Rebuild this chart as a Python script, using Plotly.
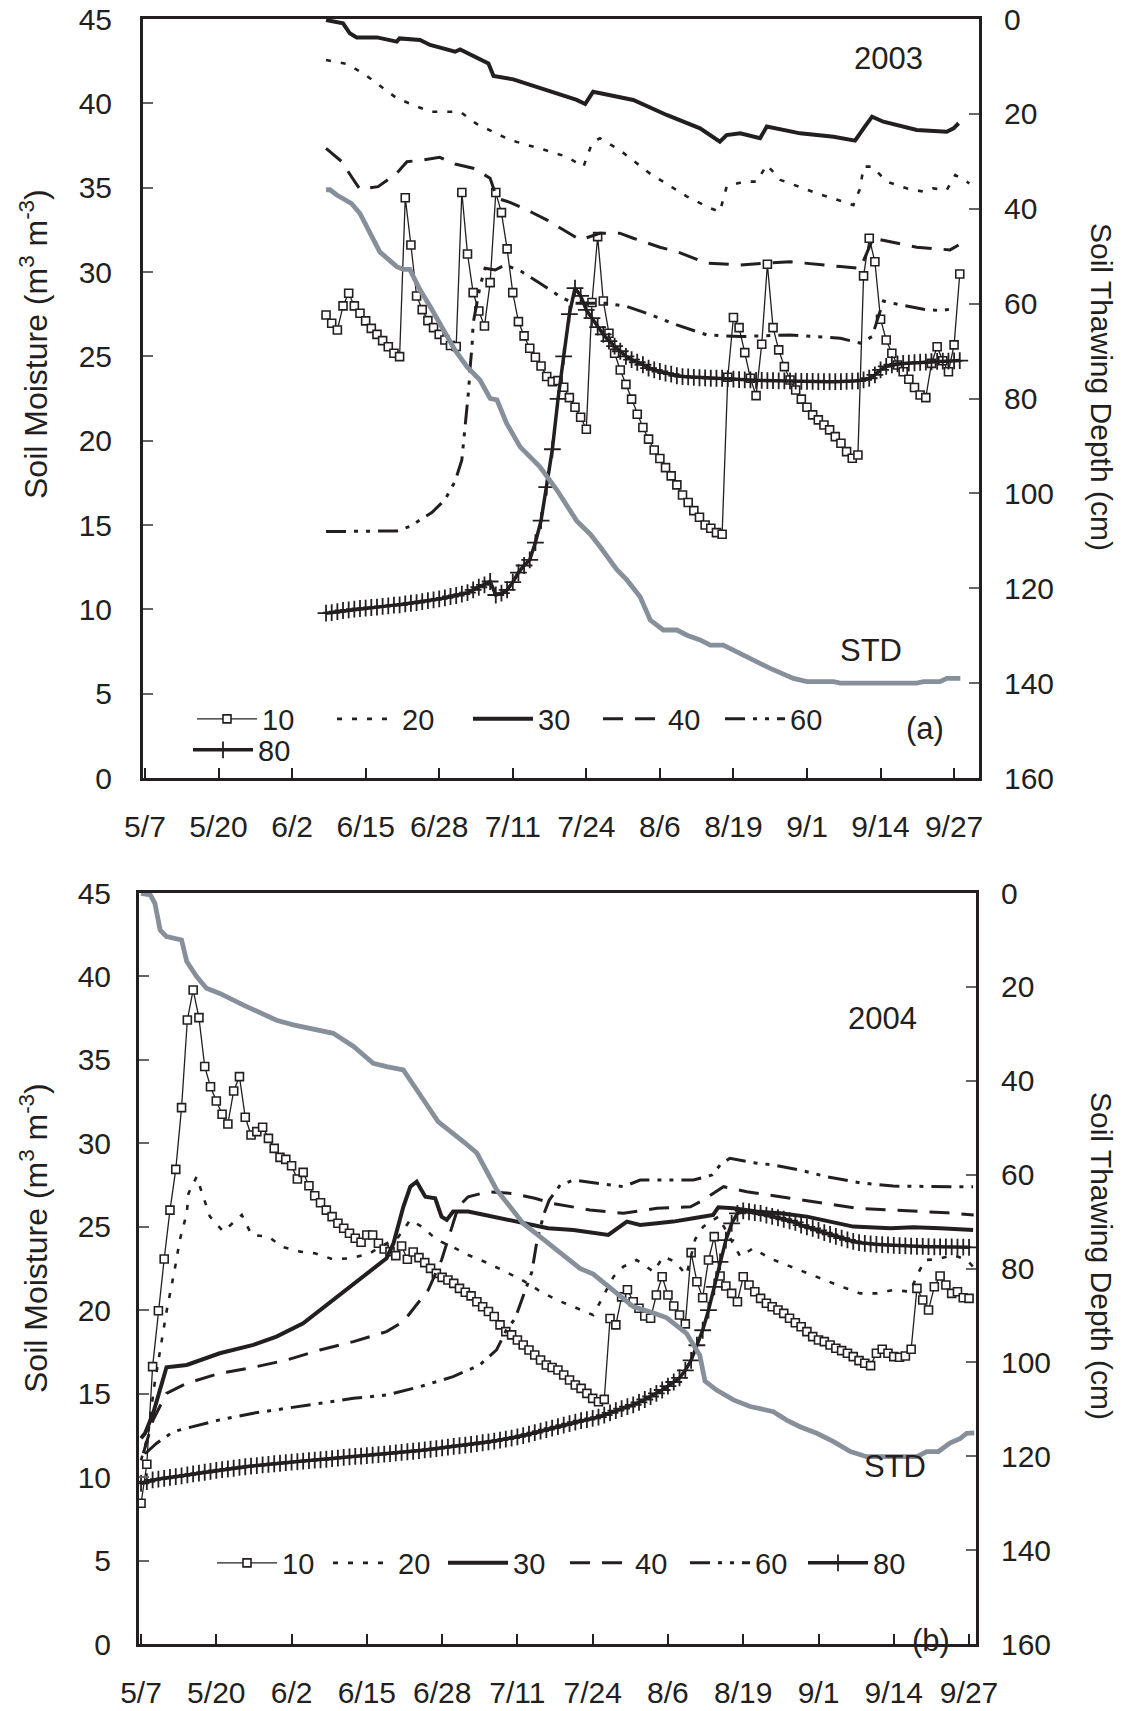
import pandas as pd
import plotly.graph_objects as go

FONT = "Arial, 'Liberation Sans', Helvetica, sans-serif"
INK = "#231f20"
GRAY = "#87909a"
W, H = 1126, 1711

# ---------------- shared axis labels ----------------
tick_days = [0, 13, 26, 39, 52, 65, 78, 91, 104, 117, 130, 143]
tick_text = ["5/7", "5/20", "6/2", "6/15", "6/28", "7/11", "7/24", "8/6", "8/19", "9/1", "9/14", "9/27"]
depth_labels = ["10", "20", "30", "40", "60", "80"]

# ---------------- panel (a) 2003 : days counted from May 7 ----------------
a_daily_start = 32
a_m10 = [27.45, 26.96, 26.56, 27.99, 28.74, 27.99, 27.55, 27.10, 26.66, 26.30,
         25.93, 25.57, 25.18, 24.98, 34.40, 31.60, 28.58, 27.77, 27.12, 26.70,
         26.30, 25.97, 25.64, 25.58, 34.71, 31.07, 28.78, 27.69, 26.80, 29.37,
         34.71, 33.52, 31.37, 28.78, 27.06, 26.21, 25.48, 24.95, 24.43, 23.80,
         23.50, 23.56, 23.17, 22.55, 21.98, 21.39, 20.68, 28.19, 32.10, 28.28,
         26.37, 25.18, 24.19, 23.34, 22.46, 21.57, 20.78, 20.09, 19.45, 18.94,
         18.40, 17.91, 17.38, 16.78, 16.33, 15.85, 15.46, 15.00, 14.81, 14.55,
         14.45, 23.76, 27.30, 26.70, 25.22, 23.70, 22.67, 25.72, 30.46, 26.70,
         25.38, 24.39, 23.60, 23.00, 22.46, 21.98, 21.53, 21.23, 20.93, 20.64,
         20.24, 19.85, 19.35, 18.96, 19.15, 29.77, 32.00, 30.61, 27.20, 25.97,
         25.18, 24.49, 24.09, 23.64, 23.15, 22.71, 22.55, 24.58, 25.57, 24.74,
         24.09, 25.68, 29.88]
a_m80 = [9.77, 9.81, 9.87, 9.93, 9.97, 10.01, 10.05, 10.07, 10.11, 10.13,
         10.17, 10.21, 10.25, 10.27, 10.32, 10.36, 10.40, 10.46, 10.52, 10.56,
         10.62, 10.68, 10.76, 10.82, 10.90, 10.99, 11.15, 11.31, 11.45, 11.65,
         10.85, 10.96, 11.15, 11.61, 12.18, 12.60, 12.93, 13.96, 15.26, 17.24,
         19.49, 22.48, 25.00, 27.50, 29.04, 28.58, 27.75, 27.26, 26.73, 26.30,
         25.90, 25.60, 25.30, 25.00, 24.80, 24.65, 24.50, 24.30, 24.20, 24.10,
         24.00, 23.95, 23.85, 23.80, 23.78, 23.75, 23.73, 23.72, 23.70, 23.70,
         23.70, 23.68, 23.65, 23.62, 23.60, 23.60, 23.58, 23.57, 23.56, 23.56,
         23.55, 23.55, 23.54, 23.53, 23.52, 23.52, 23.51, 23.50, 23.50, 23.50,
         23.50, 23.50, 23.52, 23.53, 23.55, 23.60, 23.70, 23.90, 24.20, 24.40,
         24.50, 24.55, 24.58, 24.60, 24.62, 24.65, 24.66, 24.68, 24.70, 24.71,
         24.72, 24.73, 24.75]
a_m20_day = [32, 35.7, 38.6, 44.5, 50.4, 55.7, 58.6, 64.5, 71, 74.5, 77.5, 79, 80.4, 83.9,
             89.2, 95.8, 99.9, 101.6, 102.8, 105.8, 108.1, 109.9, 112.3, 118.7, 125.2,
             126.4, 127, 128.5, 131.1, 134.6, 137.6, 139.3, 141.7, 143.2, 145.7]
a_m20 = [42.57, 42.33, 41.78, 40.3, 39.5, 39.5, 38.78, 37.83, 37.2, 36.84, 36.25, 37.63,
         37.93, 37.23, 35.85, 34.47, 33.78, 33.58, 35.06, 35.36, 35.36, 36.35, 35.46,
         34.67, 33.97, 34.96, 36.25, 36.25, 35.36, 34.96, 34.76, 34.96, 34.86, 35.75, 35.26]
a_m30_day = [32, 35, 36.2, 37.4, 41, 44.5, 45, 48.6, 50.4, 54.8, 55.7, 59.8, 60.7, 61.6,
             65.1, 76.3, 77.8, 79.2, 86.3, 92.2, 98.1, 101.6, 102.8, 105.2, 108.7, 109.9,
             115.8, 121.7, 125.5, 127, 128.5, 130.5, 136.4, 141.7, 142.9, 143.8]
a_m30 = [44.94, 44.74, 44.15, 43.91, 43.91, 43.66, 43.85, 43.76, 43.46, 43.06, 43.2, 42.57,
         42.37, 41.62, 41.42, 40.2, 39.96, 40.69, 40.2, 39.31, 38.52, 37.73, 38.12, 38.22,
         37.93, 38.62, 38.22, 38.02, 37.79, 38.52, 39.21, 38.91, 38.42, 38.32, 38.52, 38.82]
a_m40_day = [32, 34.8, 36.5, 38, 41.2, 44.5, 46.3, 49.2, 52.1, 54.8, 58, 61, 62.2, 64.5,
             67.5, 71, 74.5, 76.9, 80.4, 83.9, 86.3, 91, 94, 99.3, 105.2, 114, 122.9,
             126.4, 128.7, 132.3, 136.4, 142.3, 143.8]
a_m40 = [37.33, 36.54, 35.65, 34.9, 35.06, 35.85, 36.54, 36.64, 36.8, 36.4, 36.15, 35.56,
         34.37, 34.13, 33.68, 33.09, 32.39, 31.9, 32.3, 32.3, 32.0, 31.47, 31.21, 30.52,
         30.42, 30.61, 30.32, 30.22, 32.0, 31.74, 31.47, 31.31, 31.6]
a_m60_day = [32, 35.7, 42.1, 44.5, 46.8, 50.7, 53, 54.8, 56, 56.6, 57.2, 57.5, 57.8, 58,
             59.2, 60.1, 61.9, 63.6, 66.3, 69.8, 73.4, 75.7, 81.6, 85.2, 88.7, 94, 99.3,
             105.2, 114, 122.9, 126.4, 128.5, 130.5, 133.5, 137.6, 140.5, 143.5]
a_m60 = [14.61, 14.61, 14.61, 14.65, 14.91, 15.74, 16.49, 17.58, 18.86, 20.83, 23.0, 24.49,
         25.58, 26.96, 29.13, 30.22, 30.12, 30.42, 30.08, 29.33, 28.54, 28.15, 28.15, 27.95,
         27.55, 26.86, 26.27, 26.17, 26.27, 26.07, 25.78, 26.17, 28.28, 28.05, 27.79, 27.71,
         27.85]
a_std_day = [32, 32.7, 33.9, 36.5, 38, 39.2, 41.5, 44.5, 45.7, 46.8, 48.6, 50.4, 53.3,
             54.8, 56.9, 59.2, 61, 62.2, 63.9, 66.3, 69.8, 72.8, 76.3, 78.7, 80.4, 83.4,
             85.2, 87.5, 89.3, 91.6, 94, 95.8, 98.1, 99.9, 102.2, 104.6, 106.9, 110.5,
             114.6, 117, 121.7, 122.9, 136.4, 137.6, 140.5, 141.7, 144.1]
a_std = [36.0, 36.0, 37.1, 38.9, 41.0, 43.8, 49.1, 52.2, 52.8, 52.8, 57.1, 60.6, 67.0,
         69.8, 73.3, 76.1, 80.0, 80.3, 85.2, 90.2, 94.4, 99.3, 105.8, 108.6, 111.2, 116.1,
         118.3, 121.8, 126.7, 128.8, 128.8, 129.9, 130.9, 132.0, 132.0, 133.4, 134.8,
         136.9, 139.0, 139.7, 139.7, 140.0, 140.0, 139.7, 139.7, 139.0, 139.0]

# ---------------- panel (b) 2004 ----------------
b_daily_start = 0
b_m10 = [8.43, 10.77, 16.62, 19.97, 23.07, 26.0, 28.44, 32.14, 37.39, 39.19,
         37.53, 34.6, 33.39, 32.54, 31.74, 31.16, 33.14, 34.0, 31.56, 30.5,
         30.7, 30.96, 30.3, 29.7, 29.16, 29.04, 28.66, 27.86, 28.26, 27.46,
         26.86, 26.44, 26.0, 25.61, 25.21, 24.91, 24.61, 24.31, 24.07, 24.51,
         24.51, 24.01, 23.67, 23.51, 23.27, 23.85, 23.05, 23.49, 23.15, 22.85,
         22.51, 22.21, 21.97, 21.81, 21.61, 21.31, 21.08, 20.86, 20.51, 20.21,
         19.92, 19.62, 19.12, 18.72, 18.52, 18.22, 17.92, 17.62, 17.32, 17.02,
         16.72, 16.57, 16.42, 16.12, 15.82, 15.52, 15.32, 15.02, 14.72, 14.52,
         14.66, 19.5, 19.12, 20.8, 21.23, 20.51, 20.12, 19.65, 19.52, 20.91,
         22.01, 20.91, 20.25, 19.71, 19.18, 23.45, 21.71, 20.75, 23.01, 24.41,
         22.05, 21.45, 21.01, 20.51, 22.01, 21.51, 21.11, 20.71, 20.42, 20.21,
         20.01, 19.81, 19.52, 19.25, 19.01, 18.72, 18.42, 18.22, 18.12, 17.92,
         17.72, 17.58, 17.42, 17.22, 16.98, 16.82, 16.68, 17.42, 17.66, 17.42,
         17.22, 17.18, 17.26, 17.66, 21.31, 20.61, 20.01, 21.41, 22.05, 21.51,
         21.01, 21.11, 20.75, 20.71]
b_m80 = [9.63, 9.73, 9.83, 9.88, 9.93, 9.98, 10.03, 10.08, 10.13, 10.19,
         10.24, 10.29, 10.34, 10.40, 10.45, 10.49, 10.53, 10.58, 10.62, 10.66,
         10.69, 10.73, 10.76, 10.80, 10.83, 10.87, 10.90, 10.93, 10.96, 10.99,
         11.02, 11.04, 11.07, 11.11, 11.14, 11.18, 11.21, 11.24, 11.26, 11.29,
         11.32, 11.35, 11.38, 11.41, 11.45, 11.48, 11.52, 11.55, 11.59, 11.63,
         11.67, 11.71, 11.75, 11.80, 11.84, 11.88, 11.92, 11.96, 12.01, 12.06,
         12.11, 12.16, 12.22, 12.28, 12.34, 12.41, 12.49, 12.57, 12.66, 12.75,
         12.85, 12.94, 13.03, 13.12, 13.21, 13.30, 13.38, 13.45, 13.52, 13.60,
         13.72, 13.85, 13.98, 14.10, 14.22, 14.33, 14.48, 14.65, 14.83, 15.02,
         15.22, 15.45, 15.70, 15.95, 16.40, 17.0, 17.9, 18.8, 20.0, 21.4,
         22.9, 24.2, 25.2, 25.8, 25.95, 25.9, 25.85, 25.8, 25.7, 25.62,
         25.54, 25.45, 25.36, 25.26, 25.1, 25.0, 24.9, 24.78, 24.65, 24.54,
         24.43, 24.32, 24.22, 24.13, 24.05, 24.0, 23.97, 23.95, 23.93, 23.91,
         23.89, 23.87, 23.86, 23.84, 23.83, 23.82, 23.81, 23.80, 23.80, 23.79,
         23.79, 23.78, 23.78, 23.77]
b_m20_day = [0, 1.2, 2.3, 3.9, 4.4, 5.8, 6.7, 7.9, 8.2, 9.6, 10.8, 11.9, 14.2, 15.9, 17.4,
             19.1, 22, 24.3, 27.5, 30, 33.2, 36.1, 39.3, 41.9, 44.4, 46.5, 48.5, 51.1,
             53.7, 56.5, 60, 62.9, 65.8, 68.6, 71.8, 74.7, 78.1, 81.6, 83.3, 85.6, 88.5,
             90.2, 92.2, 94.2, 95.7, 97.1, 99.7, 103.5, 105.7, 108.6, 111.5, 115, 117.8,
             121.3, 124.2, 127.1, 129.9, 132.8, 134.2, 135.4, 137.4, 140.3, 142.6, 143.7]
b_m20 = [11.0, 12.5, 15.5, 18.82, 19.91, 22.41, 24.21, 25.81, 27.0, 28.0, 26.71, 25.61,
         24.71, 25.21, 25.71, 24.51, 24.41, 23.81, 23.51, 23.41, 23.05, 23.11, 23.37,
         23.91, 24.37, 25.41, 25.01, 24.21, 23.81, 23.31, 22.81, 22.31, 21.81, 21.21,
         20.61, 20.21, 19.71, 22.01, 22.61, 23.01, 22.31, 23.21, 22.91, 22.11, 24.25,
         25.01, 25.61, 23.21, 23.71, 23.11, 22.71, 22.21, 21.81, 21.37, 21.01, 21.01,
         21.21, 21.11, 22.21, 23.01, 23.05, 23.31, 23.01, 22.61]
b_m30_day = [0, 0.7, 2.1, 3.3, 4.4, 7.9, 13.6, 19.4, 23.4, 28, 33.2, 36.7, 40.1, 42.4,
             43.6, 45.3, 46.5, 47.6, 49.1, 50.8, 51.9, 52.8, 53.9, 56.5, 59.4, 65.2, 70.3,
             74.7, 80.7, 83.9, 86.2, 89.1, 91.9, 95.4, 98.8, 99.7, 102.3, 106.3, 110.4,
             115, 119.6, 123, 129.4, 133.4, 138, 143.7]
b_m30 = [12.33, 12.63, 13.83, 15.22, 16.58, 16.72, 17.42, 17.92, 18.42, 19.22, 20.61,
         21.61, 22.51, 23.11, 24.01, 26.2, 27.4, 27.7, 26.8, 26.71, 25.61, 25.41, 25.91,
         25.91, 25.71, 25.31, 24.91, 24.81, 24.51, 25.31, 25.11, 25.21, 25.31, 25.51,
         25.71, 26.17, 26.11, 25.91, 25.81, 25.61, 25.25, 25.01, 24.91, 24.97, 24.91, 24.81]
b_m40_day = [0.4, 2.1, 4.4, 7.9, 13.6, 19.4, 25.2, 30.9, 36.7, 42.4, 45.3, 47.3, 49.6,
             51.9, 53.4, 54.8, 56.5, 60, 64, 68, 70.9, 77.5, 83.3, 89.1, 94.9, 97.1, 98.8,
             100.6, 104.6, 110.4, 116.7, 123.6, 129.4, 135.1, 139.2, 143.8]
b_m40 = [11.43, 13.43, 15.02, 15.62, 16.22, 16.58, 17.02, 17.62, 18.12, 18.72, 19.32,
         20.21, 21.21, 23.01, 24.61, 26.2, 26.8, 27.1, 27.0, 26.71, 26.41, 26.01, 25.81,
         26.11, 26.2, 26.6, 27.0, 27.4, 27.1, 26.8, 26.5, 26.11, 26.01, 25.91, 25.84, 25.71]
b_m60_day = [0.7, 2.7, 5.6, 9, 13.6, 19.4, 25.2, 30.9, 36.7, 42.4, 48.2, 53.9, 58.5, 61.4,
             63.1, 64.6, 66, 67.5, 68.4, 69.6, 70.5, 72.4, 74.7, 79.3, 83.3, 86.2, 90.8,
             95.4, 98.6, 100, 101.7, 105.7, 109.2, 113.8, 118.4, 124.1, 129.9, 135.1,
             139.7, 143.7]
b_m60 = [11.4, 12.03, 12.73, 13.03, 13.43, 13.83, 14.12, 14.42, 14.72, 14.92, 15.42, 16.02,
         16.72, 17.62, 18.82, 19.5, 20.8, 22.3, 24.2, 25.8, 26.6, 27.5, 27.8, 27.6, 27.4,
         27.8, 27.8, 27.8, 28.1, 28.7, 29.1, 28.84, 28.7, 28.4, 28.0, 27.64, 27.44, 27.4,
         27.4, 27.4]
b_std_day = [0, 1.6, 2.4, 3.3, 4.4, 7, 7.9, 9.6, 11.3, 13.6, 17.7, 20.6, 23.4, 26.3, 30.9,
             33.2, 36.7, 40.1, 42.4, 45.3, 48.8, 51.3, 55.7, 58, 61.4, 66, 68.9, 75.8, 78.1,
             82.2, 85, 88.5, 90.8, 94.2, 96.5, 97.4, 99.4, 102.3, 105.2, 109.2, 111.5,
             113.8, 116.7, 119.6, 122.5, 125.3, 134, 135.7, 137.7, 139.7, 141.5, 142.6, 143.9]
b_std = [0.07, 0.4, 2.2, 7.9, 9.3, 10.0, 14.6, 17.8, 20.3, 21.4, 23.9, 25.6, 27.1, 28.1,
         29.2, 29.9, 32.7, 36.3, 37.0, 37.7, 44.1, 48.7, 53.0, 55.4, 63.2, 70.4, 73.2, 80.0,
         81.2, 85.3, 88.1, 89.5, 90.5, 93.8, 98.5, 104.0, 105.9, 108.0, 109.4, 110.5, 112.3,
         113.7, 115.1, 116.9, 119.0, 120.1, 120.1, 119.0, 119.0, 117.2, 116.2, 115.1, 115.0]


def to_dates(base, days):
    return [base + pd.Timedelta(days=float(d)) for d in days]


def daily(base, start, n):
    return [base + pd.Timedelta(days=start + i) for i in range(n)]


STYLE = {
    "10": dict(mode="lines+markers", line=dict(color=INK, width=1.3),
               marker=dict(symbol="square", size=8, color="white", line=dict(width=1.6, color=INK))),
    "20": dict(mode="lines", line=dict(color=INK, width=2.6, dash="5px,10px")),
    "30": dict(mode="lines", line=dict(color=INK, width=4)),
    "40": dict(mode="lines", line=dict(color=INK, width=3, dash="20px,12px")),
    "60": dict(mode="lines", line=dict(color=INK, width=3, dash="20px,8px,4px,8px,4px,8px")),
    "80": dict(mode="lines+markers", line=dict(color=INK, width=3.5),
               marker=dict(symbol="cross-thin", size=12, color=INK, line=dict(width=1.8, color=INK))),
}

fig = go.Figure()


def add_panel(base, xa, ya, ya_r, series, std_days, std_vals, legends):
    for (lab, xs, ys), lg in zip(series, legends):
        st = STYLE[lab]
        fig.add_trace(go.Scatter(x=xs, y=ys, name=lab, xaxis=xa, yaxis=ya, legend=lg,
                                 hoverinfo="skip", **st))
    fig.add_trace(go.Scatter(x=to_dates(base, std_days), y=std_vals, name="STD", xaxis=xa,
                             yaxis=ya_r, mode="lines", showlegend=False,
                             line=dict(color=GRAY, width=4.8)))


A = pd.Timestamp("2003-05-07")
B = pd.Timestamp("2004-05-07")

series_a = [
    ("10", daily(A, a_daily_start, len(a_m10)), a_m10),
    ("20", to_dates(A, a_m20_day), a_m20),
    ("30", to_dates(A, a_m30_day), a_m30),
    ("40", to_dates(A, a_m40_day), a_m40),
    ("60", to_dates(A, a_m60_day), a_m60),
    ("80", daily(A, a_daily_start, len(a_m80)), a_m80),
]
series_b = [
    ("10", daily(B, b_daily_start, len(b_m10)), b_m10),
    ("20", to_dates(B, b_m20_day), b_m20),
    ("30", to_dates(B, b_m30_day), b_m30),
    ("40", to_dates(B, b_m40_day), b_m40),
    ("60", to_dates(B, b_m60_day), b_m60),
    ("80", daily(B, b_daily_start, len(b_m80)), b_m80),
]
leg_names = ["legend"] + ["legend%d" % k for k in range(2, 13)]
add_panel(A, "x", "y", "y2", series_a, a_std_day, a_std, leg_names[:6])
add_panel(B, "x2", "y3", "y4", series_b, b_std_day, b_std, leg_names[6:])

TICKF = dict(family=FONT, size=30, color=INK)


def xaxis_cfg(base, dom, anchor, lo, hi, top_w):
    return dict(domain=dom, anchor=anchor, type="date",
                range=[base + pd.Timedelta(days=lo), base + pd.Timedelta(days=hi)],
                tickvals=[base + pd.Timedelta(days=d) for d in tick_days], ticktext=tick_text,
                ticks="inside", ticklen=10, tickwidth=1.5, tickcolor=INK,
                showline=True, linecolor=INK, linewidth=top_w, mirror=True,
                showgrid=False, zeroline=False, tickfont=TICKF, ticklabelstandoff=20)


def yleft_cfg(dom, anchor, standoff):
    return dict(domain=dom, anchor=anchor, range=[0, 45], dtick=5,
                ticks="inside", ticklen=10, tickwidth=1.5, tickcolor="#666",
                showline=True, linecolor=INK, linewidth=3,
                showgrid=False, zeroline=False, tickfont=TICKF, ticklabelstandoff=standoff)


def yright_cfg(over, anchor):
    return dict(overlaying=over, anchor=anchor, side="right", range=[160, 0], dtick=20,
                ticks="inside", ticklen=10, tickwidth=1.5, tickcolor="#666",
                showline=True, linecolor=INK, linewidth=3,
                showgrid=False, zeroline=False, tickfont=TICKF, ticklabelstandoff=16)


def px(x):
    return x / W


def py(y):
    return 1 - y / H


LEGF = dict(family=FONT, size=29, color=INK)
# one legend box per entry so each sits where the reference puts it (pixel x of symbol start, y of row)
leg_pos = [(197, 719), (337, 719), (473, 719), (603, 719), (725, 719), (193, 750),
           (217, 1563), (333, 1563), (448, 1563), (570, 1563), (690, 1563), (808, 1563)]
leg_layout = {}
for name, (lx, ly) in zip(leg_names, leg_pos):
    leg_layout[name] = dict(x=px(lx - 5), y=py(ly), xanchor="left", yanchor="middle",
                            orientation="h", font=LEGF, bgcolor="rgba(0,0,0,0)",
                            borderwidth=0, itemwidth=60)

fig.update_layout(
    width=W, height=H, autosize=False,
    margin=dict(l=0, r=0, t=0, b=0, autoexpand=False),
    paper_bgcolor="white", plot_bgcolor="white",
    font=dict(family=FONT, color=INK),
    showlegend=True,
    xaxis=xaxis_cfg(A, [px(143), px(979)], "y", -0.35, 147.4, 3),
    yaxis=yleft_cfg([py(778), py(19)], "x", 22),
    yaxis2=yright_cfg("y", "x"),
    xaxis2=xaxis_cfg(B, [px(139), px(976)], "y3", -0.35, 144.2, 2.5),
    yaxis3=yleft_cfg([py(1644), py(893)], "x2", 19),
    yaxis4=yright_cfg("y3", "x2"),
    **leg_layout,
)

ANN = dict(family=FONT, size=31, color=INK)
TITLEF = dict(family=FONT, size=30, color=INK)
TITLEL = dict(family=FONT, size=32, color=INK)
notes = [
    ("2003", 888, 58, ANN, 0), ("STD", 871, 650, ANN, 0), ("(a)", 925, 729, ANN, 0),
    ("2004", 882, 1018, ANN, 0), ("STD", 895, 1466, ANN, 0), ("(b)", 931, 1640, ANN, 0),
    ("Soil Moisture (m<sup>3</sup> m<sup>-3</sup>)", 34, 344, TITLEL, -90),
    ("Soil Moisture (m<sup>3</sup> m<sup>-3</sup>)", 34, 1238, TITLEL, -90),
    ("Soil Thawing Depth (cm)", 1102, 387, TITLEF, 90),
    ("Soil Thawing Depth (cm)", 1102, 1256, TITLEF, 90),
]
for text, x, y, f, ang in notes:
    fig.add_annotation(text=text, x=px(x), y=py(y), xref="paper", yref="paper",
                       showarrow=False, font=f, textangle=ang,
                       xanchor="center", yanchor="middle")

fig.write_html("out.html")
